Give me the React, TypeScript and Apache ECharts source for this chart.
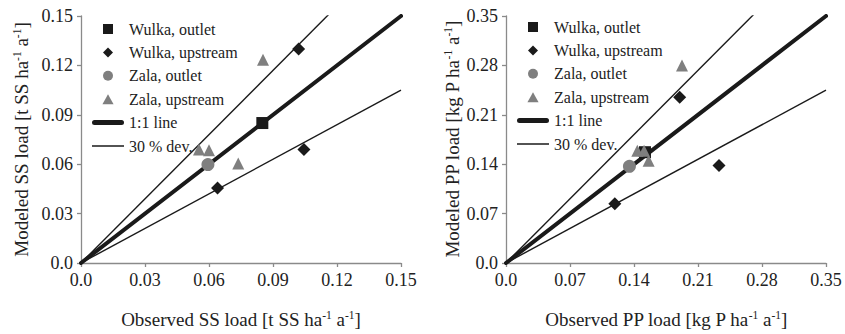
import React, { useEffect, useRef } from "react";
import * as echarts from "echarts";

// ---- Data ----
const legendNames = ["Wulka, outlet", "Wulka, upstream", "Zala, outlet", "Zala, upstream", "1:1 line", "30 % dev."];

const ssWulkaOutlet = [[0.085, 0.085]];
const ssWulkaUpstream = [[0.102, 0.130], [0.1045, 0.069], [0.064, 0.0455]];
const ssZalaOutlet = [[0.0595, 0.0598]];
const ssZalaUpstream = [[0.0853, 0.1235], [0.0553, 0.0690], [0.0600, 0.0685], [0.0737, 0.0605]];

const ppWulkaOutlet = [[0.152, 0.157]];
const ppWulkaUpstream = [[0.190, 0.235], [0.233, 0.138], [0.119, 0.084]];
const ppZalaOutlet = [[0.135, 0.137]];
const ppZalaUpstream = [[0.1925, 0.280], [0.1436, 0.159], [0.151, 0.159], [0.156, 0.145]];

const ssAxisMax = 0.15;
const ssInterval = 0.03;
const ppAxisMax = 0.35;
const ppInterval = 0.07;

const devRatios = [1.3, 0.7];

const FONT = "Liberation Serif";
const BLACK = "#1a1a1a";
const GREY = "#7f7f7f";
const AXIS = "#8a8a8a";
const TEXT = "#222";

const ICONS: Record<string, string> = {
  "Wulka, outlet": "path://M0,0L10,0L10,10L0,10Z",
  "Wulka, upstream": "path://M5,1L9,5L5,9L1,5Z",
  "Zala, outlet": "path://M5,0A5,5,0,1,1,5,10A5,5,0,1,1,5,0Z",
  "Zala, upstream": "path://M5,0.5L10,9.5L0,9.5Z",
  "1:1 line": "path://M2.5,0L29.5,0A2.5,2.5,0,0,1,29.5,5L2.5,5A2.5,2.5,0,0,1,2.5,0Z",
  "30 % dev.": "path://M0,0L32,0L32,1.5L0,1.5Z",
};

const fmt = (v: number) => "{t|" + (v === 0 ? "0.0" : v.toFixed(2)) + "}";

const tickRich = { t: { fontSize: 18, fontFamily: FONT, color: TEXT } };

const rich = {
  m: { fontSize: 19, fontFamily: FONT, color: TEXT, lineHeight: 22, verticalAlign: "bottom" },
  s: { fontSize: 11.5, fontFamily: FONT, color: TEXT, lineHeight: 22, verticalAlign: "top", padding: [2, 0, 0, 0] },
};

function axisPair(idx: number, max: number, interval: number, xName: string, yName: string, yGap: number) {
  const common = {
    gridIndex: idx,
    type: "value",
    min: 0,
    max,
    interval,
    axisLine: { show: true, onZero: false, lineStyle: { color: AXIS, width: 1.3 } },
    axisTick: { show: true, inside: false, length: 4, lineStyle: { color: AXIS, width: 1.3 } },
    splitLine: { show: false },
    axisLabel: { formatter: fmt, fontFamily: FONT, fontSize: 18, color: TEXT, rich: tickRich },
    nameLocation: "middle",
    nameTextStyle: { rich },
  };
  return {
    x: { ...common, name: xName, nameGap: 44, axisLabel: { ...common.axisLabel, margin: 8 } },
    y: { ...common, name: yName, nameGap: yGap, axisLabel: { ...common.axisLabel, margin: 8 } },
  };
}

function seriesFor(idx: number, max: number, wo: number[][], wu: number[][], zo: number[][], zu: number[][]) {
  const lines: any[] = [
    {
      name: "1:1 line",
      type: "line",
      xAxisIndex: idx,
      yAxisIndex: idx,
      data: [[0, 0], [max, max]],
      symbol: "none",
      z: 1,
      clip: true,
      color: BLACK,
      lineStyle: { color: BLACK, width: 4, cap: "round" },
    },
    ...devRatios.map((r) => ({
      name: "30 % dev.",
      type: "line",
      xAxisIndex: idx,
      yAxisIndex: idx,
      data: [[0, 0], [max, max * r]],
      symbol: "none",
      z: 1,
      clip: true,
      color: BLACK,
      lineStyle: { color: BLACK, width: 1.4 },
    })),
  ];
  const pts: any[] = [
    { name: "Wulka, outlet", data: wo, symbol: "rect", symbolSize: 12, color: BLACK },
    { name: "Wulka, upstream", data: wu, symbol: "diamond", symbolSize: 13, color: BLACK },
    { name: "Zala, outlet", data: zo, symbol: "circle", symbolSize: 13, color: GREY },
    { name: "Zala, upstream", data: zu, symbol: "triangle", symbolSize: 12, color: GREY },
  ].map((s) => ({
    name: s.name,
    type: "scatter",
    xAxisIndex: idx,
    yAxisIndex: idx,
    data: s.data,
    symbol: s.symbol,
    symbolSize: s.symbolSize,
    z: 3,
    color: s.color,
    itemStyle: { color: s.color, opacity: 1 },
  }));
  return [...lines, ...pts];
}

function legendAt(left: number, top: number) {
  return {
    orient: "vertical",
    left,
    top,
    padding: 0,
    data: legendNames.map((n) => ({ name: n, icon: ICONS[n] })),
    itemWidth: 32,
    itemHeight: 10,
    itemGap: 3.4,
    symbolKeepAspect: true,
    selectedMode: false,
    formatter: "{l|{name}}",
    textStyle: {
      fontFamily: FONT,
      fontSize: 16,
      color: TEXT,
      lineHeight: 20,
      rich: { l: { fontFamily: FONT, fontSize: 16, color: TEXT, lineHeight: 20 } },
    },
  };
}

export default function App() {
  const ref = useRef<HTMLDivElement>(null);
  useEffect(() => {
    if (!ref.current) return;
    const chart = echarts.init(ref.current, null, { renderer: "svg" });
    const a1 = axisPair(
      0,
      ssAxisMax,
      ssInterval,
      "{m|Observed SS load [t SS ha}{s|-1}{m| a}{s|-1}{m|]}",
      "{m|Modeled SS load [t SS ha}{s|-1}{m| a}{s|-1}{m|]}",
      50
    );
    const a2 = axisPair(
      1,
      ppAxisMax,
      ppInterval,
      "{m|Observed PP load [kg P ha}{s|-1}{m| a}{s|-1}{m|]}",
      "{m|Modeled PP load [kg P ha}{s|-1}{m| a}{s|-1}{m|]}",
      44
    );
    const option: any = {
      animation: false,
      backgroundColor: "#ffffff",
      textStyle: { fontFamily: FONT },
      grid: [
        { left: 81, top: 16, width: 320, height: 256 },
        { left: 506, top: 16, width: 320, height: 256 },
      ],
      xAxis: [a1.x, a2.x],
      yAxis: [a1.y, a2.y],
      legend: [legendAt(92, 19), legendAt(517, 17)],
      series: [
        ...seriesFor(0, ssAxisMax, ssWulkaOutlet, ssWulkaUpstream, ssZalaOutlet, ssZalaUpstream),
        ...seriesFor(1, ppAxisMax, ppWulkaOutlet, ppWulkaUpstream, ppZalaOutlet, ppZalaUpstream),
      ],
    };
    chart.setOption(option);
    return () => chart.dispose();
  }, []);
  return (
    <div
      ref={ref}
      style={{ position: "fixed", left: 0, top: 0, width: 845, height: 334, background: "#fff" }}
    />
  );
}
